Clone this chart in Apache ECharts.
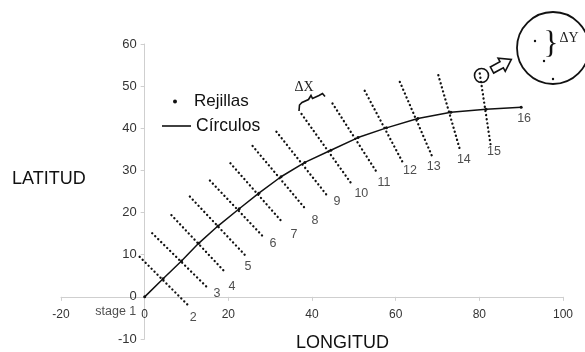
<!DOCTYPE html>
<html>
<head>
<meta charset="utf-8">
<script src="https://cdn.jsdelivr.net/npm/echarts@6/dist/echarts.min.js"></script>
<style>
html,body{margin:0;padding:0;background:#fff;}
#chart{width:585px;height:352px;}
</style>
</head>
<body>
<div id="chart"></div>
<script>
// Nodes of the "Círculos" curve, stages 1..16
const stageNames = ['stage 1','2','3','4','5','6','7','8','9','10','11','12','13','14','15','16'];
const circleX = [0, 4.4, 8.8, 12.9, 17.5, 22.6, 27.3, 32.6, 38.3, 44.5, 51.0, 57.8, 65.3, 73.2, 81.6, 90.0];
const circleY = [0, 4.3, 8.5, 12.7, 16.8, 20.9, 24.6, 28.5, 31.9, 34.8, 37.8, 40.1, 42.3, 43.8, 44.5, 45.0];

// "Rejillas" grid lines for stages 2..15 (start and end of each dotted line)
const gridStartX = [-1.2, 1.8, 6.4, 10.8, 15.6, 20.5, 25.8, 31.5, 37.5, 44.9, 52.6, 61.0, 70.2, 80.1];
const gridStartY = [9.5, 15.1, 19.4, 23.8, 27.6, 31.7, 35.8, 39.2, 43.4, 45.9, 48.9, 51.0, 52.6, 53.0];
const gridEndX   = [10.8, 15.1, 19.1, 23.9, 28.7, 33.1, 38.5, 43.5, 49.4, 55.4, 61.8, 68.6, 75.4, 82.7];
const gridEndY   = [-2.4, 2.1, 6.0, 10.0, 13.9, 17.5, 20.8, 24.2, 26.9, 29.7, 31.7, 33.6, 34.8, 36.0];

// Stage label anchors (data units)
const labelX = [-6.9, 11.6, 17.3, 20.9, 24.7, 30.7, 35.7, 40.7, 46.0, 51.8, 57.2, 63.4, 69.1, 76.3, 83.5, 90.7];
const labelY = [-3.6, -5.0, 0.7, 2.4, 7.3, 12.6, 14.7, 18.2, 22.6, 24.4, 27.1, 29.9, 30.9, 32.6, 34.4, 42.3];

// Axis ranges / ticks
const xMin = -20, xMax = 100, xStep = 20;
const yMin = -10, yMax = 60, yStep = 10;

const SANS = "'Liberation Sans',Arial,sans-serif";
const SERIF = "'Liberation Serif','Times New Roman',serif";
const INK = '#111';

const GRID = {left: 61, right: 22, top: 44, bottom: 13};
const W = 585, H = 352;
const plotW = W - GRID.left - GRID.right;
const plotH = H - GRID.top - GRID.bottom;
// offsets that move the axes onto the origin (x = 0, y = 0)
const yAxisOffset = -plotW * (0 - xMin) / (xMax - xMin);
const xAxisOffset = -plotH * (0 - yMin) / (yMax - yMin);

const chart = echarts.init(document.getElementById('chart'), null, {renderer:'canvas'});

const series = [];
for (let i = 0; i < gridStartX.length; i++) {
  series.push({
    name: 'Rejillas',
    type: 'line',
    data: [[gridStartX[i], gridStartY[i]], [gridEndX[i], gridEndY[i]]],
    symbol: 'none',
    silent: true,
    itemStyle: {color: INK},
    lineStyle: {color: INK, width: 2.3, type: [0.1, 4.1], cap: 'round'},
    z: 2
  });
}
series.push({
  name: 'Círculos',
  type: 'line',
  data: circleX.map((x, i) => [x, circleY[i]]),
  symbol: 'circle',
  symbolSize: 3,
  showSymbol: true,
  itemStyle: {color: INK},
  lineStyle: {color: INK, width: 1.5},
  z: 3
});
series.push({
  name: 'etiquetas',
  type: 'scatter',
  data: labelX.map((x, i) => [x, labelY[i], stageNames[i]]),
  symbolSize: 1,
  itemStyle: {color: 'rgba(0,0,0,0)'},
  silent: true,
  label: {
    show: true,
    position: 'inside',
    formatter: p => p.data[2],
    fontFamily: SANS,
    fontSize: 12.5,
    color: '#222'
  },
  z: 4
});

const option = {
  animation: false,
  backgroundColor: '#fff',
  grid: Object.assign({containLabel: false, outerBoundsMode: 'none'}, GRID),
  title: [
    {text: 'LATITUD', left: 12, top: 170, padding: 0,
     textStyle: {fontFamily: SANS, fontSize: 18, fontWeight: 'normal', color: INK}},
    {text: 'LONGITUD', left: 296, top: 334, padding: 0,
     textStyle: {fontFamily: SANS, fontSize: 18, fontWeight: 'normal', color: INK}}
  ],
  legend: [
    {data: [{name: 'Rejillas', icon: 'circle'}], left: 173, top: 93, padding: 0,
     itemWidth: 4, itemHeight: 4, selectedMode: false,
     textStyle: {fontFamily: SANS, fontSize: 17, color: INK, padding: [0, 0, 0, 12]}},
    {data: [{name: 'Círculos', icon: 'rect'}], left: 162, top: 117, padding: 0,
     itemWidth: 29, itemHeight: 1.6, selectedMode: false,
     textStyle: {fontFamily: SANS, fontSize: 17.5, color: INK}}
  ],
  xAxis: {
    type: 'value', min: xMin, max: xMax, interval: xStep,
    position: 'bottom', offset: xAxisOffset,
    axisLine: {show: true, onZero: false, lineStyle: {color: '#cfcfcf', width: 1}},
    axisTick: {show: true, length: 4, lineStyle: {color: '#cfcfcf'}},
    axisLabel: {margin: 12, fontFamily: SANS, fontSize: 12, color: '#333'},
    splitLine: {show: false}
  },
  yAxis: {
    type: 'value', min: yMin, max: yMax, interval: yStep,
    position: 'left', offset: yAxisOffset,
    axisLine: {show: true, onZero: false, lineStyle: {color: '#cfcfcf', width: 1}},
    axisTick: {show: true, length: 4, lineStyle: {color: '#cfcfcf'}},
    axisLabel: {margin: 8, fontFamily: SANS, fontSize: 13, color: '#333'},
    splitLine: {show: false}
  },
  graphic: [
    // ΔX annotation
    {type: 'text', x: 304, y: 87, silent: true,
     style: {text: 'ΔX', font: '14px ' + SERIF, fill: '#222', align: 'center', verticalAlign: 'middle', textAlign: 'center', textVerticalAlign: 'middle'}},
    {type: 'polyline', silent: true,
     shape: {points: [[299,111],[299.5,105],[302,102.5],[308.5,99.5],[311,95.5],[312.5,98.5],[319,95.5],[322.5,93.5],[325,96.5]]},
     style: {stroke: INK, lineWidth: 1.6, fill: null}},
    // small circle on stage 15
    {type: 'circle', silent: true, shape: {cx: 481.5, cy: 75.5, r: 7},
     style: {fill: null, stroke: INK, lineWidth: 1.6}},
    // hollow arrow
    {type: 'polygon', silent: true, x: 492, y: 70, rotation: 0.5,
     shape: {points: [[0,-3.5],[11,-3.5],[11,-7.5],[22,0],[11,7.5],[11,3.5],[0,3.5]]},
     style: {fill: '#fff', stroke: INK, lineWidth: 1.6}},
    // inset circle
    {type: 'circle', silent: true, shape: {cx: 553, cy: 48, r: 36},
     style: {fill: null, stroke: INK, lineWidth: 1.8}},
    {type: 'circle', silent: true, shape: {cx: 535, cy: 41, r: 1.2}, style: {fill: INK}},
    {type: 'circle', silent: true, shape: {cx: 544, cy: 61, r: 1.2}, style: {fill: INK}},
    {type: 'circle', silent: true, shape: {cx: 553, cy: 79, r: 1.2}, style: {fill: INK}},
    {type: 'text', x: 551, y: 45, silent: true,
     style: {text: '}', font: '31px ' + SERIF, fill: INK, align: 'center', verticalAlign: 'middle', textAlign: 'center', textVerticalAlign: 'middle'}},
    {type: 'text', x: 569, y: 38, silent: true,
     style: {text: 'ΔY', font: '14px ' + SERIF, fill: '#222', align: 'center', verticalAlign: 'middle', textAlign: 'center', textVerticalAlign: 'middle'}}
  ],
  series: series
};
chart.setOption(option);
</script>
</body>
</html>
